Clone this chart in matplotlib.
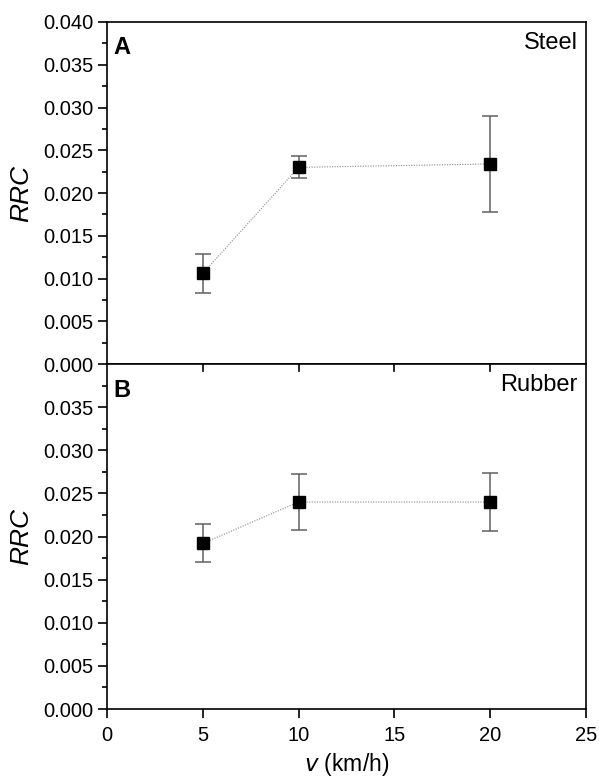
import matplotlib
matplotlib.use("agg")
import matplotlib.pyplot as plt
from matplotlib.ticker import MultipleLocator, FixedLocator

plt.rcParams['font.family'] = ['Liberation Sans', 'DejaVu Sans']

# speeds (km/h)
speed = [5, 10, 20]

# steel surface
steel_rrc = [0.0106, 0.0230, 0.0234]
steel_err = [0.0023, 0.0013, 0.0056]

# rubber surface
rubber_rrc = [0.0192, 0.0240, 0.0240]
rubber_err = [0.0022, 0.0032, 0.0034]

panel_tags = ["A", "B"]
panel_names = ["Steel", "Rubber"]

fig = plt.figure(figsize=(5.99, 7.80), dpi=100)
ax_top = fig.add_axes([0.1786, 0.5333, 0.7997, 0.4385])
ax_bot = fig.add_axes([0.1786, 0.0910, 0.7997, 0.4423], sharex=ax_top)

def draw_panel(ax, y, yerr, tag, name):
    ax.plot(speed, y, color="#888888", linestyle=(0, (1, 1.3)), linewidth=0.8, zorder=2)
    ax.errorbar(speed, y, yerr=yerr, fmt="none", ecolor="#606060", elinewidth=1.1,
                capsize=5.5, capthick=1.1, zorder=3)
    ax.plot(speed, y, "s", color="black", markersize=8, zorder=4)
    ax.set_ylim(0, 0.040)
    ax.set_xlim(0, 25)
    for sp in ax.spines.values():
        sp.set_linewidth(1.2)
    ax.tick_params(axis="y", which="major", direction="out", length=6.5, width=1.2,
                   labelsize=14.5, right=False)
    ax.tick_params(axis="y", which="minor", direction="out", length=3.3, width=1.2, right=False)
    ax.set_ylabel("RRC", fontsize=19, style="italic")
    ax.text(0.014, 0.958, tag, transform=ax.transAxes, fontsize=17, fontweight="bold",
            ha="left", va="top")
    ax.text(0.983, 0.972, name, transform=ax.transAxes, fontsize=17,
            ha="right", va="top")

draw_panel(ax_top, steel_rrc, steel_err, panel_tags[0], panel_names[0])
draw_panel(ax_bot, rubber_rrc, rubber_err, panel_tags[1], panel_names[1])

# top panel: all y labels, no x ticks
ax_top.yaxis.set_major_locator(MultipleLocator(0.005))
ax_top.yaxis.set_minor_locator(MultipleLocator(0.0025))
ax_top.yaxis.set_major_formatter(matplotlib.ticker.FormatStrFormatter("%.3f"))
ax_top.tick_params(axis="x", which="both", bottom=False, top=False, labelbottom=False)

# bottom panel: skip 0.040 label, ticks pointing in on the shared edge
ax_bot.yaxis.set_major_locator(FixedLocator([0.0, 0.005, 0.010, 0.015, 0.020, 0.025, 0.030, 0.035]))
ax_bot.yaxis.set_minor_locator(FixedLocator([0.0025, 0.0075, 0.0125, 0.0175, 0.0225,
                                             0.0275, 0.0325, 0.0375]))
ax_bot.yaxis.set_major_formatter(matplotlib.ticker.FormatStrFormatter("%.3f"))
ax_bot.xaxis.set_major_locator(MultipleLocator(5))
ax_bot.tick_params(axis="x", which="major", direction="out", length=6.5, width=1.2,
                   labelsize=14.5, top=False, pad=6)
ax_bot.tick_params(axis="x", which="minor", bottom=False, top=False)
ax_bot.set_xlabel("$\\mathit{v}$ (km/h)", fontsize=16.5, labelpad=4)

# inward ticks from the shared edge
for xt in [5, 10, 15, 20]:
    ax_bot.plot([xt, xt], [0.040, 0.040 - 0.0008], color="black", linewidth=1.2,
                clip_on=False, zorder=5)

ax_top.yaxis.set_label_coords(-0.154, 0.5)
ax_bot.yaxis.set_label_coords(-0.154, 0.5)

plt.savefig("out.png", dpi=100)
plt.close()
